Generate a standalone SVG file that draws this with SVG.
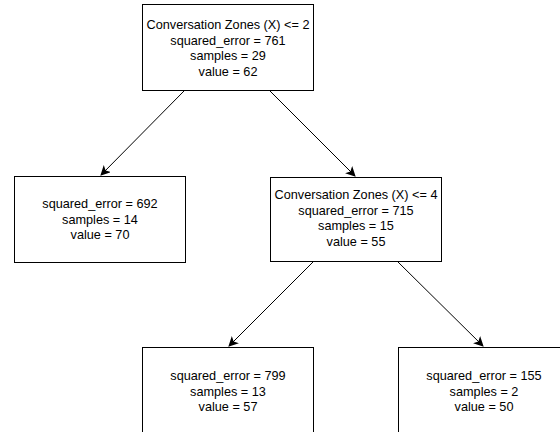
<svg xmlns="http://www.w3.org/2000/svg" width="560" height="432" viewBox="0 0 560 432">
<defs>
<marker id="arr" viewBox="0 0 10 10" refX="9" refY="5" markerWidth="10" markerHeight="10" markerUnits="userSpaceOnUse" orient="auto">
<path d="M0,0 L10,5 L0,10 L2.5,5 Z" fill="#000"/>
</marker>
<style>
.box{fill:#fff;stroke:#000;stroke-width:1}
.t{font-family:"Liberation Sans",Arial,sans-serif;font-size:12.7px;fill:#000;text-anchor:middle}
.c{stroke:#000;stroke-width:1;fill:none;marker-end:url(#arr)}
</style>
</defs>
<rect width="560" height="432" fill="#fff"/>
<g id="connectors">
<line class="c" x1="184" y1="91" x2="101" y2="175"/>
<line class="c" x1="270" y1="91" x2="355" y2="176"/>
<line class="c" x1="313" y1="262" x2="229" y2="346"/>
<line class="c" x1="398" y1="262" x2="483" y2="346"/>
</g>
<g id="root">
<rect class="box" x="142.5" y="4.5" width="171" height="86"/>
<text class="t" x="228" y="29">Conversation Zones (X) &lt;= 2</text>
<text class="t" x="228" y="44.5">squared_error = 761</text>
<text class="t" x="228" y="60">samples = 29</text>
<text class="t" x="228" y="75.5">value = 62</text>
</g>
<g id="left">
<rect class="box" x="14.5" y="176.5" width="171" height="86"/>
<text class="t" x="100" y="208">squared_error = 692</text>
<text class="t" x="100" y="223.5">samples = 14</text>
<text class="t" x="100" y="239">value = 70</text>
</g>
<g id="mid">
<rect class="box" x="270.5" y="177.5" width="171" height="84"/>
<text class="t" x="356" y="199">Conversation Zones (X) &lt;= 4</text>
<text class="t" x="356" y="214.5">squared_error = 715</text>
<text class="t" x="356" y="230">samples = 15</text>
<text class="t" x="356" y="245.5">value = 55</text>
</g>
<g id="bottomleft">
<rect class="box" x="142.5" y="347.5" width="171" height="100"/>
<text class="t" x="228" y="380">squared_error = 799</text>
<text class="t" x="228" y="395.5">samples = 13</text>
<text class="t" x="228" y="411">value = 57</text>
</g>
<g id="bottomright">
<rect class="box" x="398.5" y="347.5" width="171" height="100"/>
<text class="t" x="484" y="380">squared_error = 155</text>
<text class="t" x="484" y="395.5">samples = 2</text>
<text class="t" x="484" y="411">value = 50</text>
</g>
</svg>
